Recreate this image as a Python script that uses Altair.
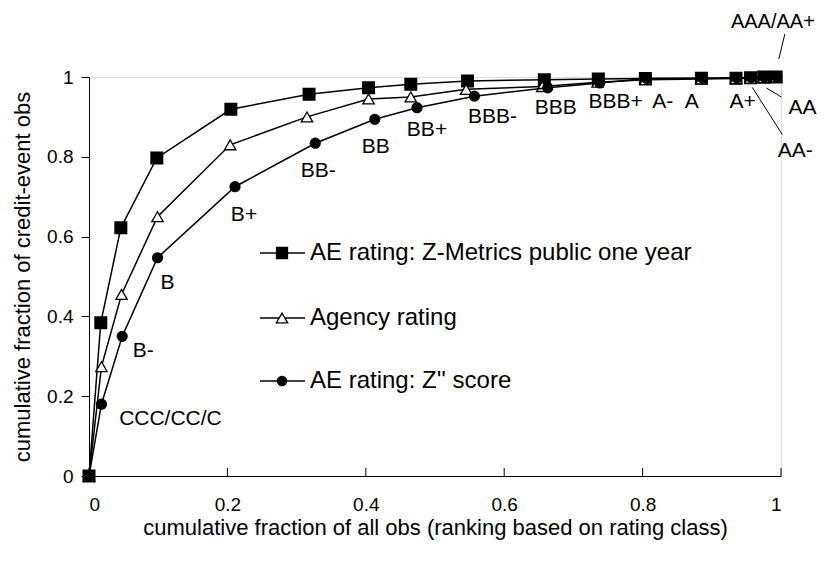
import altair as alt
import pandas as pd

# ---- data ----
ratings = ["", "CCC/CC/C", "B-", "B", "B+", "BB-", "BB", "BB+", "BBB-", "BBB",
           "BBB+", "A-", "A", "A+", "AA-", "AA", "AAA/AA+"]

series_names = ["AE rating: Z-Metrics public one year", "Agency rating", "AE rating: Z'' score"]

x_zmetrics = [0, 0.017, 0.046, 0.098, 0.205, 0.318, 0.404, 0.465, 0.547, 0.658,
              0.736, 0.804, 0.885, 0.935, 0.956, 0.975, 0.993]
y_zmetrics = [0, 0.384, 0.622, 0.797, 0.919, 0.957, 0.973, 0.982, 0.990, 0.993,
              0.995, 0.996, 0.997, 0.997, 0.998, 1.0, 1.0]

x_agency = [0, 0.018, 0.047, 0.099, 0.204, 0.315, 0.404, 0.465, 0.545, 0.655,
            0.735, 0.804, 0.885, 0.935, 0.956, 0.975, 0.993]
y_agency = [0, 0.274, 0.455, 0.650, 0.830, 0.900, 0.945, 0.950, 0.969, 0.976,
            0.987, 0.993, 0.995, 0.996, 0.997, 0.998, 1.0]

x_zscore = [0, 0.018, 0.048, 0.099, 0.211, 0.327, 0.413, 0.474, 0.557, 0.663,
            0.738, 0.806, 0.887, 0.936, 0.957, 0.976, 0.994]
y_zscore = [0, 0.180, 0.350, 0.547, 0.725, 0.834, 0.894, 0.923, 0.952, 0.973,
            0.985, 0.996, 0.997, 0.998, 0.999, 1.0, 1.0]

tick_values = [0, 0.2, 0.4, 0.6, 0.8, 1]

FONT = "Liberation Sans"
W, H = 692, 399


def frame(name, xs, ys):
    return pd.DataFrame({"series": name, "idx": list(range(len(xs))), "x": xs, "y": ys,
                         "label": ratings})


df_zm = frame(series_names[0], x_zmetrics, y_zmetrics)
df_ag = frame(series_names[1], x_agency, y_agency)
df_zs = frame(series_names[2], x_zscore, y_zscore)

xscale = alt.Scale(domain=[0, 1], nice=False, zero=False)
yscale = alt.Scale(domain=[0, 1], nice=False, zero=False)

xaxis = alt.Axis(values=tick_values, format="~g", grid=False, ticks=False, tickSize=0,
                 domainColor="black", domainWidth=1,
                 labelFont=FONT, labelFontSize=19, labelColor="black", labelPadding=19,
                 title="cumulative fraction of all obs (ranking based on rating class)",
                 titleFont=FONT, titleFontSize=22, titleFontWeight="normal", titleColor="black",
                 titleY=51, titleBaseline="middle")
yaxis = alt.Axis(values=tick_values, format="~g", grid=False, ticks=True, tickSize=8,
                 tickColor="black", domainColor="black", domainWidth=1,
                 labelFont=FONT, labelFontSize=19, labelColor="black", labelPadding=8,
                 title="cumulative fraction of credit-event obs",
                 titleFont=FONT, titleFontSize=22, titleFontWeight="normal", titleColor="black",
                 titleX=-67, titleY=H / 2, titleBaseline="middle")

X = alt.X("x:Q", scale=xscale, axis=xaxis)
Y = alt.Y("y:Q", scale=yscale, axis=yaxis)


def series_layers(df, point_mark):
    base = alt.Chart(df)
    line = base.mark_line(color="black", strokeWidth=1.5).encode(x=X, y=Y, order="idx:Q")
    pts = point_mark(base).encode(x=X, y=Y)
    return [line, pts]


layers = []
layers += series_layers(df_zm, lambda b: b.mark_point(shape="square", filled=True, fill="black",
                                                       stroke="black", size=121, opacity=1))
layers += series_layers(df_ag, lambda b: b.mark_point(shape="triangle-up", filled=True, fill="white",
                                                       stroke="black", strokeWidth=1.3, size=130,
                                                       opacity=1, fillOpacity=1))
layers += series_layers(df_zs, lambda b: b.mark_point(shape="circle", filled=True, fill="black",
                                                       stroke="black", size=85, opacity=1))

# custom x ticks (pointing up into the plot)
ticks_df = pd.DataFrame({"t": tick_values})
layers.append(alt.Chart(ticks_df).mark_rule(color="black", strokeWidth=1).encode(
    x=alt.X("t:Q", scale=xscale, axis=xaxis), y=alt.value(H), y2=alt.value(H - 8)))

# rating labels anchored on the Z'' score points: (dx, dy, font size)
label_offsets = {
    "CCC/CC/C": (69, 15, 21), "B-": (21, 15, 21), "B": (10, 25, 21), "B+": (9, 28, 21),
    "BB-": (3, 28, 21), "BB": (1, 28, 21), "BB+": (10, 22, 21), "BBB-": (18, 21, 21),
    "BBB": (8, 20, 21), "BBB+": (16, 19, 21), "A-": (16, 23, 21), "A": (-11, 24, 21),
    "A+": (6, 24, 21), "AA-": (44, 74, 21), "AA": (38, 31, 21), "AAA/AA+": (-4, -55, 20),
}
for lab, (dx, dy, fs) in label_offsets.items():
    layers.append(
        alt.Chart(df_zs).transform_filter(alt.datum.label == lab)
        .mark_text(dx=dx, dy=dy, font=FONT, fontSize=fs, color="black",
                   align="center", baseline="middle")
        .encode(x=X, y=Y, text="label:N"))

# leader lines
leaders = {
    "AAA/AA+": (2, -18, 8, -43),
    "AA": (2, 11, 17, 20),
    "AA-": (1, 10, 31, 57),
}
for lab, (x1, y1, x2, y2) in leaders.items():
    layers.append(
        alt.Chart(df_zs).transform_filter(alt.datum.label == lab)
        .mark_rule(color="black", strokeWidth=1, xOffset=x1, yOffset=y1,
                   x2Offset=x2, y2Offset=y2)
        .encode(x=X, y=Y, x2="x:Q", y2="y:Q"))

# legend (drawn manually)
legend_rows = [176, 241, 304]
legend_shapes = [("square", "black", 121), ("triangle-up", "white", 130), ("circle", "black", 85)]
one = pd.DataFrame({"name": series_names})
for i, name in enumerate(series_names):
    ry = legend_rows[i]
    shp, fillc, sz = legend_shapes[i]
    d = alt.Chart(one).transform_filter(alt.datum.name == name)
    layers.append(d.mark_rule(color="black", strokeWidth=1.5).encode(
        x=alt.value(171), x2=alt.value(216), y=alt.value(ry)))
    layers.append(d.mark_point(shape=shp, filled=True, fill=fillc, stroke="black",
                               strokeWidth=1.3, size=sz, opacity=1).encode(
        x=alt.value(193), y=alt.value(ry)))
    layers.append(d.mark_text(font=FONT, fontSize=24, color="black", align="left",
                              baseline="middle").encode(
        x=alt.value(221), y=alt.value(ry), text="name:N"))

chart = alt.layer(*layers).properties(
    width=W, height=H,
    padding={"left": 81, "top": 69, "right": 37, "bottom": 79},
    autosize=alt.AutoSizeParams(type="none"),
).configure_view(stroke=None).configure(background="white")

chart.save("out.html", embed_options={"renderer": "svg", "actions": False})
